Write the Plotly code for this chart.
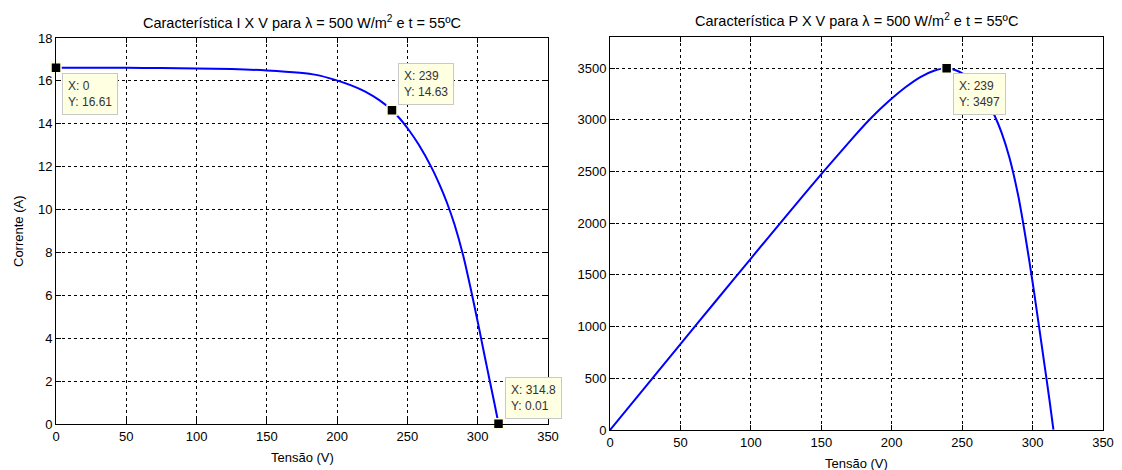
import plotly.graph_objects as go

# Module operating point curves (500 W/m2, 55 ºC)
tensao = [0, 25, 50, 75, 100, 125, 150, 173.5, 185, 198, 210, 220, 230, 239,
          245, 251, 258, 267, 273, 278, 283.5, 290, 295, 300, 302.3, 305, 308.7, 312, 314.8]
corrente = [16.61, 16.61, 16.61, 16.60, 16.58, 16.55, 16.49, 16.38, 16.28, 16.06,
            15.79, 15.50, 15.10, 14.63, 14.21, 13.71, 13.03, 11.98, 11.14, 10.34,
            9.30, 7.77, 6.32, 4.77, 4.03, 3.15, 1.97, 0.93, 0.01]
potencia = [0, 415, 831, 1245, 1658, 2069, 2474, 2842, 3012, 3180,
            3316, 3410, 3473, 3497, 3481, 3441, 3362, 3199, 3041, 2875,
            2637, 2253, 1864, 1431, 1218, 961, 608, 290, 3]

# Data-cursor readouts: (x, y, label, vertical anchor)
cursores_iv = [(0, 16.61, "X: 0<br>Y: 16.61", "top"),
               (239, 14.63, "X: 239<br>Y: 14.63", "bottom"),
               (314.8, 0.01, "X: 314.8<br>Y: 0.01", "bottom")]
cursores_pv = [(239, 3497, "X: 239<br>Y: 3497", "top")]

titulo_iv = "Característica I X V para λ = 500 W/m<sup>2</sup> e t = 55ºC"
titulo_pv = "Característica P X V para λ = 500 W/m<sup>2</sup> e t = 55ºC"

W, H = 1122, 470
FONT = "Liberation Sans, Arial, sans-serif"

fig = go.Figure()

curve = dict(color="#0000FF", width=2, shape="spline", smoothing=0.6)
fig.add_trace(go.Scatter(x=tensao, y=corrente, mode="lines", line=curve,
                         xaxis="x", yaxis="y", showlegend=False, hoverinfo="skip"))
fig.add_trace(go.Scatter(x=tensao, y=potencia, mode="lines", line=curve,
                         xaxis="x2", yaxis="y2", showlegend=False, hoverinfo="skip"))

marker = dict(symbol="square", size=10, color="black", line=dict(color="#FFFFE1", width=1.5))
fig.add_trace(go.Scatter(x=[c[0] for c in cursores_iv], y=[c[1] for c in cursores_iv], mode="markers",
                         marker=marker, xaxis="x", yaxis="y", showlegend=False, cliponaxis=False))
fig.add_trace(go.Scatter(x=[c[0] for c in cursores_pv], y=[c[1] for c in cursores_pv], mode="markers",
                         marker=marker, xaxis="x2", yaxis="y2", showlegend=False, cliponaxis=False))

annotations = []
for (cx, cy, txt, anc), (xr, yr) in [(c, ("x", "y")) for c in cursores_iv] + [(c, ("x2", "y2")) for c in cursores_pv]:
    annotations.append(dict(x=cx, y=cy, xref=xr, yref=yr, text=txt, showarrow=False, align="left",
                            xanchor="left", yanchor=anc, xshift=6, yshift=(-5 if anc == "top" else 5),
                            bgcolor="#FFFFE1", bordercolor="#C8C8C8", borderwidth=1, borderpad=5,
                            font=dict(family=FONT, size=12, color="#333333")))

# Titles and axis labels
annotations += [
    dict(x=302 / W, y=1 - 22 / H, xref="paper", yref="paper", text=titulo_iv, showarrow=False,
         xanchor="center", yanchor="middle", font=dict(family=FONT, size=14.5, color="black")),
    dict(x=856 / W, y=1 - 20 / H, xref="paper", yref="paper", text=titulo_pv, showarrow=False,
         xanchor="center", yanchor="middle", font=dict(family=FONT, size=14.5, color="black")),
    dict(x=302 / W, y=1 - 457 / H, xref="paper", yref="paper", text="Tensão (V)", showarrow=False,
         xanchor="center", yanchor="middle", font=dict(family=FONT, size=13, color="black")),
    dict(x=856 / W, y=1 - 463 / H, xref="paper", yref="paper", text="Tensão (V)", showarrow=False,
         xanchor="center", yanchor="middle", font=dict(family=FONT, size=13, color="black")),
    dict(x=18 / W, y=1 - 231 / H, xref="paper", yref="paper", text="Corrente (A)", showarrow=False,
         textangle=-90, xanchor="center", yanchor="middle", font=dict(family=FONT, size=13, color="black")),
]

axis_common = dict(showline=True, linecolor="black", linewidth=1, mirror="allticks", ticks="inside", ticklen=5,
                   tickcolor="black", showgrid=True, gridcolor="black", gridwidth=1, griddash="3px,3px",
                   zeroline=False, tickfont=dict(family=FONT, size=13, color="black"), fixedrange=True,
                   automargin=False)

fig.update_layout(
    width=W, height=H, margin=dict(l=0, r=0, t=0, b=0),
    paper_bgcolor="white", plot_bgcolor="white",
    xaxis=dict(axis_common, domain=[56 / W, 548 / W], range=[0, 350], tickvals=list(range(0, 351, 50)), anchor="y"),
    yaxis=dict(axis_common, domain=[1 - 424 / H, 1 - 38 / H], range=[0, 18], tickvals=list(range(0, 19, 2)), anchor="x"),
    xaxis2=dict(axis_common, domain=[610 / W, 1103 / W], range=[0, 350], tickvals=list(range(0, 351, 50)), anchor="y2"),
    yaxis2=dict(axis_common, domain=[1 - 430 / H, 1 - 37 / H], range=[0, 3800], tickvals=list(range(0, 3501, 500)), anchor="x2"),
    annotations=annotations,
)

fig.write_html("out.html")
